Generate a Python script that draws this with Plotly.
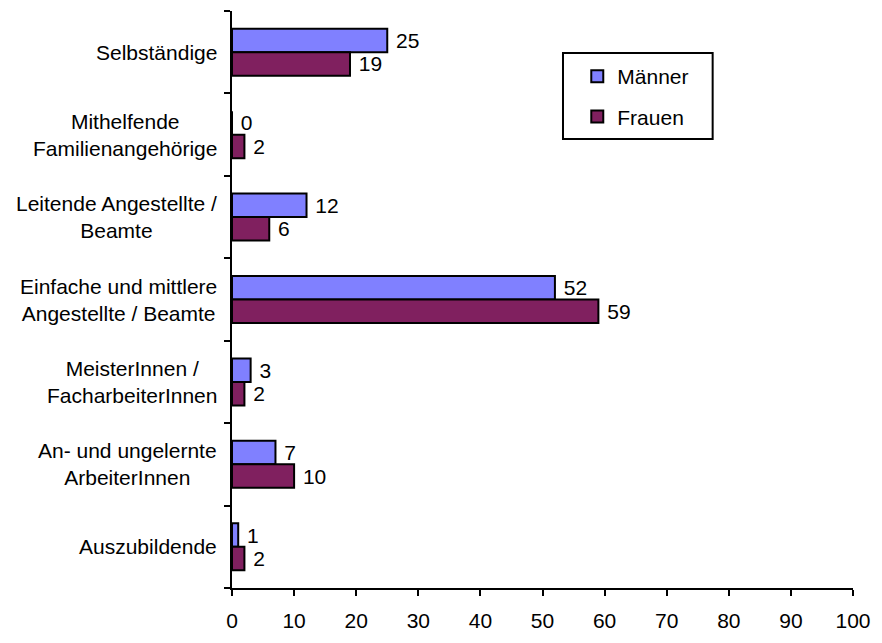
import plotly.graph_objects as go

# Occupational status, share in percent
categories = [
    "Selbständige",
    "Mithelfende<br>Familienangehörige",
    "Leitende Angestellte /<br>Beamte",
    "Einfache und mittlere<br>Angestellte / Beamte",
    "MeisterInnen /<br>FacharbeiterInnen",
    "An- und ungelernte<br>ArbeiterInnen",
    "Auszubildende",
]
maenner = [25, 0, 12, 52, 3, 7, 1]
frauen = [19, 2, 6, 59, 2, 10, 2]
x_ticks = [0, 10, 20, 30, 40, 50, 60, 70, 80, 90, 100]

FONT = "Liberation Sans, Arial, sans-serif"
FS = 21
keys = list(range(len(categories)))

fig = go.Figure()
for name, vals, color in [("Männer", maenner, "#8080ff"), ("Frauen", frauen, "#80205f")]:
    fig.add_trace(go.Bar(
        y=keys, x=vals, name=name, orientation="h",
        marker=dict(color=color, line=dict(color="black", width=2)),
        texttemplate=" %{x}", textposition="outside",
        textfont=dict(family=FONT, size=FS, color="black"),
        constraintext="none", cliponaxis=False,
        legendgroup=name,
    ))

# Centered multi-line category labels left of the axis
for k, label in zip(keys, categories):
    fig.add_annotation(
        x=0, xref="paper", y=k, yref="y", text=label, showarrow=False,
        xanchor="right", xshift=-13, align="center",
        font=dict(family=FONT, size=FS, color="black"),
    )

# Legend frame
fig.add_shape(type="rect", xref="paper", yref="paper",
              x0=0.533, x1=0.774, y0=0.778, y1=0.927,
              line=dict(color="black", width=2), fillcolor="rgba(0,0,0,0)")

fig.update_layout(
    width=882, height=643,
    margin=dict(l=232, r=16, t=11, b=43),
    paper_bgcolor="white", plot_bgcolor="white",
    barmode="group", bargap=0.43, bargroupgap=0,
    font=dict(family=FONT, size=FS, color="black"),
    showlegend=True,
    legend=dict(
        x=0.556, y=0.922, xanchor="left", yanchor="top",
        traceorder="grouped", tracegroupgap=10,
        bgcolor="rgba(0,0,0,0)", borderwidth=0,
        font=dict(family=FONT, size=FS, color="black"),
    ),
    xaxis=dict(
        range=[0, 100], tickvals=x_ticks, ticktext=[str(t) for t in x_ticks],
        showgrid=False, zeroline=False, showline=True, linecolor="black", linewidth=2,
        ticks="outside", ticklen=6, tickwidth=2, tickcolor="black",
        ticklabelstandoff=7, ticklabeloverflow="allow",
        tickfont=dict(family=FONT, size=FS, color="black"),
    ),
    yaxis=dict(
        type="linear", range=[6.5, -0.5],
        tickvals=[k - 0.5 for k in keys] + [6.5],
        showticklabels=False,
        showgrid=False, zeroline=False, showline=True, linecolor="black", linewidth=2,
        ticks="outside", ticklen=6, tickwidth=2, tickcolor="black",
    ),
)

fig.write_html("out.html")
